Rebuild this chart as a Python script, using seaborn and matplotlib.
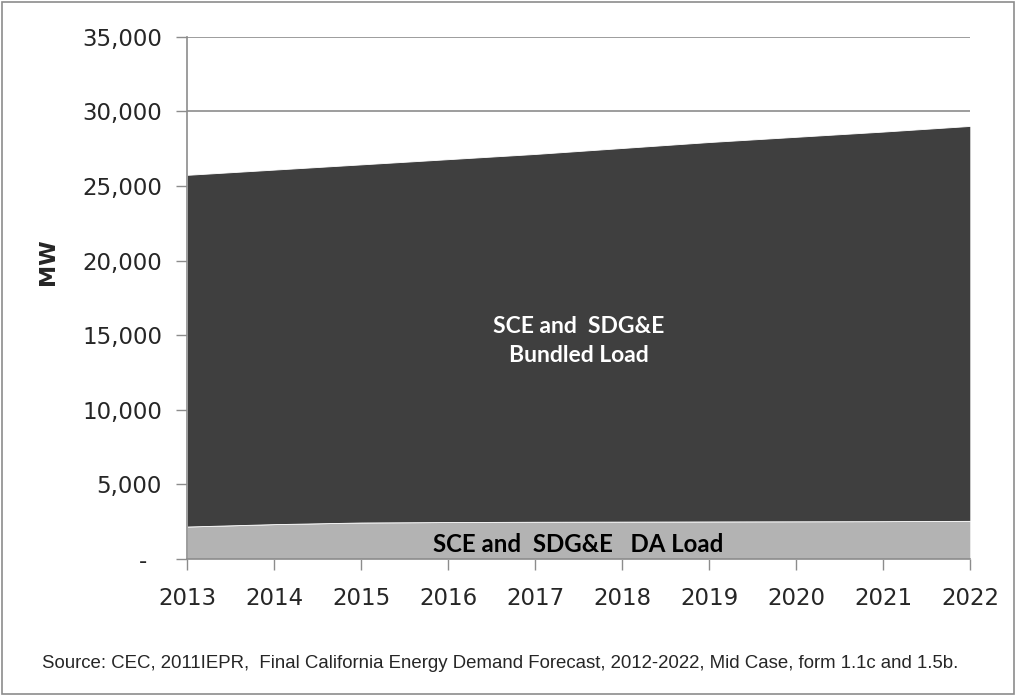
import numpy as np
import pandas as pd
import seaborn as sns
import matplotlib
matplotlib.use("Agg")
from matplotlib import pyplot as plt
from matplotlib.ticker import FuncFormatter
from matplotlib.patches import Rectangle

# values (MW)
years = [2013, 2014, 2015, 2016, 2017, 2018, 2019, 2020, 2021, 2022]
da_load = [2170, 2330, 2440, 2470, 2490, 2500, 2510, 2520, 2530, 2550]
total_load = [25750, 26100, 26450, 26800, 27150, 27550, 27950, 28300, 28650, 29030]
bundled_load = [t - d for t, d in zip(total_load, da_load)]

df = pd.DataFrame({"year": years, "DA": da_load, "Bundled": bundled_load})

sns.set_style("white")
plt.rcParams['font.family'] = ['DejaVu Sans']

fig = plt.figure(figsize=(10.16, 6.96), dpi=100)
ax = fig.add_axes([0.184, 0.197, 0.771, 0.75])

ax.stackplot(df["year"], df["DA"], df["Bundled"],
             colors=["#b3b3b3", "#3f3f3f"], edgecolor="white", linewidth=0.6)

ax.set_xlim(2013, 2022)
ax.set_ylim(0, 35000)
ax.set_yticks(range(0, 35001, 5000))
ax.set_xticks(years)
ax.yaxis.set_major_formatter(FuncFormatter(lambda v, p: "-  " if v == 0 else f"{int(v):,}"))

ax.grid(axis="y", color="#8c8c8c", linewidth=1.2)
ax.set_axisbelow(True)
for s in ["top", "right"]:
    ax.spines[s].set_visible(False)
for s in ["left", "bottom"]:
    ax.spines[s].set_color("#8c8c8c")
    ax.spines[s].set_linewidth(1.2)

ax.tick_params(axis="both", which="major", length=8, width=1, color="#8c8c8c",
               labelsize=16.5, direction="out", bottom=True, left=True)
ax.tick_params(axis="x", pad=12)
ax.tick_params(axis="y", pad=10)
ax.set_ylabel("MW", fontsize=16, fontweight="bold")
ax.yaxis.set_label_coords(-0.164, 0.569)

ax.text(2017.5, 14600, "SCE and  SDG&E\nBundled Load", color="white",
        fontsize=16.5, fontweight="bold", ha="center", va="center",
        family=["Lato", "DejaVu Sans"], linespacing=1.45)
ax.text(2017.5, 950, "SCE and  SDG&E   DA Load", color="black",
        fontsize=17.3, fontweight="bold", ha="center", va="center",
        family=["Lato", "DejaVu Sans"])

fig.text(0.492, 0.047, "Source: CEC, 2011IEPR,  Final California Energy Demand Forecast, 2012-2022, Mid Case, form 1.1c and 1.5b.",
         ha="center", va="center", fontsize=13.4,
         family=["Liberation Sans Narrow", "Liberation Sans", "DejaVu Sans"])

fig.patches.append(Rectangle((0.002, 0.003), 0.996, 0.994, transform=fig.transFigure,
                             fill=False, edgecolor="#8c8c8c", linewidth=1.2))

fig.savefig("out.png", dpi=100)
